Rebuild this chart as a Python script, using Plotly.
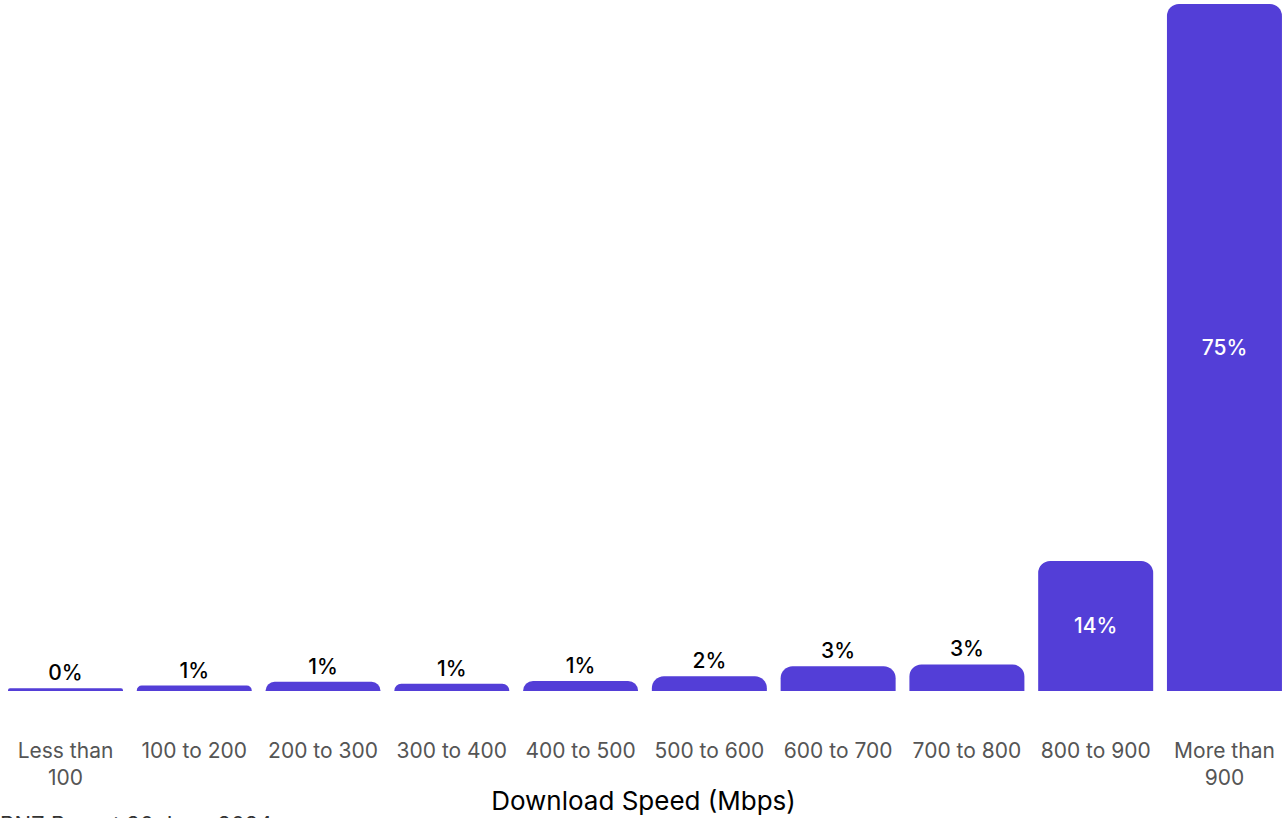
import plotly.graph_objects as go

# Share of connections by download speed band
speed_bands = [
    "Less than<br>100", "100 to 200", "200 to 300", "300 to 400", "400 to 500",
    "500 to 600", "600 to 700", "700 to 800", "800 to 900", "More than<br>900",
]
share_pct = [0.3, 0.6, 1.0, 0.8, 1.1, 1.6, 2.7, 2.9, 14.2, 75.0]

label_position = ["outside"] * 8 + ["inside"] * 2
label_colour = ["#000000"] * 8 + ["#ffffff"] * 2

BAR_COLOUR = "#533ED7"
FONT = "Inter, Roboto, sans-serif"

fig = go.Figure(
    go.Bar(
        x=speed_bands,
        y=share_pct,
        marker=dict(color=BAR_COLOUR, line=dict(width=0)),
        texttemplate="%{y:.0f}%",
        textposition=label_position,
        insidetextanchor="middle",
        textfont=dict(family=FONT, size=21, color=label_colour, weight=500),
        cliponaxis=False,
        hoverinfo="skip",
    )
)

fig.update_layout(
    width=1287,
    height=818,
    margin=dict(l=0, r=0, t=4, b=127),
    paper_bgcolor="white",
    plot_bgcolor="white",
    bargap=0.107,
    barcornerradius=12,
    showlegend=False,
    uniformtext=dict(mode=False),
    font=dict(family=FONT),
)

fig.update_xaxes(
    range=[-0.5086, 9.4857],
    showgrid=False,
    showline=False,
    zeroline=False,
    ticks="",
    ticklabelstandoff=45,
    tickfont=dict(family=FONT, size=21, color="#555555"),
    title=dict(text="Download Speed (Mbps)", font=dict(family=FONT, size=26, color="#000000"), standoff=2),
)

fig.update_yaxes(
    range=[0, 75],
    visible=False,
    showgrid=False,
    zeroline=False,
)

fig.add_annotation(
    text="BNZ Report 30 June 2024",
    xref="paper", yref="paper",
    x=0, y=0, xanchor="left", yanchor="top",
    yshift=-118,
    xshift=-2,
    showarrow=False,
    font=dict(family=FONT, size=22, color="#333333"),
)

fig.write_html("out.html")
